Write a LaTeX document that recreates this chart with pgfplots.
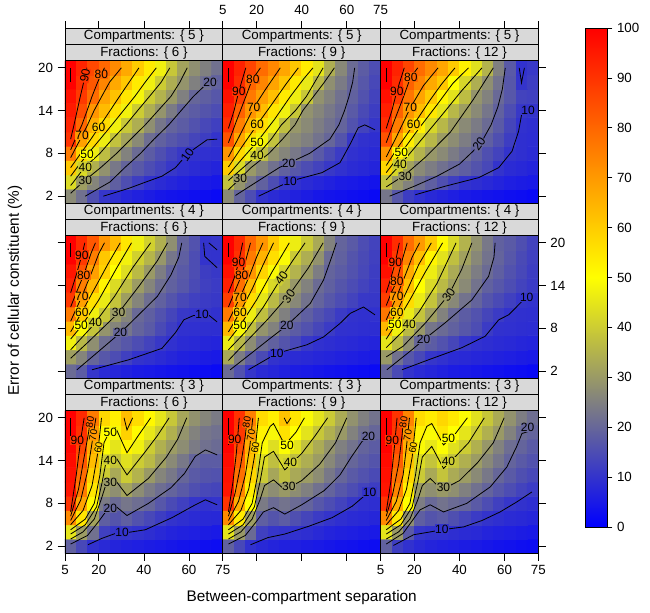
\documentclass[border=0pt]{standalone}
\usepackage{fontspec}
\setmainfont{Liberation Sans}
\usepackage{pgfplots}
\usepackage{pgfplotstable}
\pgfplotsset{compat=1.18}
\def\u{0.75pt}
\definecolor{c10}{RGB}{51,51,204}
\definecolor{c20}{RGB}{102,102,154}
\definecolor{c30}{RGB}{153,153,102}
\definecolor{c40}{RGB}{204,204,51}
\definecolor{c50}{RGB}{255,255,0}
\definecolor{c60}{RGB}{255,204,0}
\definecolor{c70}{RGB}{255,153,0}
\definecolor{c80}{RGB}{255,102,0}
\definecolor{c90}{RGB}{255,51,0}
\pgfplotsset{
 colormap={rc}{rgb255=(0,0,255) rgb255=(128,128,128) rgb255=(255,255,0) rgb255=(255,128,0) rgb255=(255,0,0)},
 pnl/.style={anchor=north west, width=118.35pt, height=106.95pt, scale only axis,
  xmin=5, xmax=75, ymin=1, ymax=21, enlargelimits=false, axis on top,
  colormap name=rc, point meta min=0, point meta max=100,
  axis line style={line width=0.6pt}, tick align=outside, major tick length=5.5pt,
  tick style={black, line width=0.5pt}, xtick={5,20,40,60,75}, ytick={2,8,14,20},
  ticklabel style={font=\fontsize{10}{12}\selectfont},
  /pgf/number format/assume math mode=true},
 hm/.style={matrix plot*, mesh/cols=14, point meta=explicit},
 ct/.style={black, line width=0.6pt, no marks},
}
\tikzset{lb/.style={font=\fontsize{9}{10}\selectfont, inner sep=0.3pt},
         lc/.style={font=\fontsize{7.5}{8}\selectfont, inner sep=0.2pt}}
\newcommand\Ct[1]{\addplot[ct] coordinates {#1};}
\newcommand\Lb[4][0]{\node[lb,fill=c#4,rotate=#1] at (axis cs:#2,#3) {#4};}
\newcommand\Lc[3]{\node[lc,fill=c#3,rotate=80] at (axis cs:#1,#2) {#3};}

\pgfplotstableread[row sep=\\]{
x y z\\
7.5 2 27\\12.5 2 22\\17.5 2 15.5\\22.5 2 10.5\\27.5 2 9\\32.5 2 7.5\\37.5 2 6.5\\42.5 2 5.5\\47.5 2 4.5\\52.5 2 4\\57.5 2 3.5\\62.5 2 3\\67.5 2 2.5\\72.5 2 2\\
7.5 4 43\\12.5 4 31\\17.5 4 26\\22.5 4 22\\27.5 4 18.5\\32.5 4 15.3\\37.5 4 12.2\\42.5 4 9.5\\47.5 4 8.5\\52.5 4 7.5\\57.5 4 6.5\\62.5 4 5.5\\67.5 4 5\\72.5 4 4.5\\
7.5 6 61\\12.5 6 43\\17.5 6 34.5\\22.5 6 28.5\\27.5 6 23.5\\32.5 6 19.6\\37.5 6 17.3\\42.5 6 15\\47.5 6 13\\52.5 6 10.7\\57.5 6 9.3\\62.5 6 8.5\\67.5 6 7.8\\72.5 6 7\\
7.5 8 76\\12.5 8 58.5\\17.5 8 46\\22.5 8 37\\27.5 8 30.5\\32.5 8 25.5\\37.5 8 21\\42.5 8 18\\47.5 8 15.5\\52.5 8 13\\57.5 8 11\\62.5 8 9.8\\67.5 8 9.3\\72.5 8 9\\
7.5 10 90\\12.5 10 68.5\\17.5 10 57.5\\22.5 10 46.5\\27.5 10 38\\32.5 10 32\\37.5 10 27\\42.5 10 21.5\\47.5 10 19\\52.5 10 17\\57.5 10 15.5\\62.5 10 13.5\\67.5 10 12\\72.5 10 10\\
7.5 12 93\\12.5 12 80\\17.5 12 66\\22.5 12 57\\27.5 12 47\\32.5 12 39\\37.5 12 34\\42.5 12 28\\47.5 12 23\\52.5 12 19.5\\57.5 12 18\\62.5 12 16\\67.5 12 14\\72.5 12 12.5\\
7.5 14 95\\12.5 14 85\\17.5 14 71\\22.5 14 63.5\\27.5 14 56\\32.5 14 47.5\\37.5 14 40\\42.5 14 34\\47.5 14 29\\52.5 14 24\\57.5 14 19.5\\62.5 14 18\\67.5 14 16.5\\72.5 14 15\\
7.5 16 97\\12.5 16 89\\17.5 16 79\\22.5 16 68\\27.5 16 62\\32.5 16 55\\37.5 16 48\\42.5 16 40\\47.5 16 35\\52.5 16 30\\57.5 16 25\\62.5 16 20\\67.5 16 18.5\\72.5 16 17\\
7.5 18 100\\12.5 18 91\\17.5 18 83\\22.5 18 74\\27.5 18 67\\32.5 18 61\\37.5 18 54\\42.5 18 47\\47.5 18 40\\52.5 18 34\\57.5 18 29\\62.5 18 25\\67.5 18 22\\72.5 18 19\\
7.5 20 100\\12.5 20 93\\17.5 20 86\\22.5 20 80\\27.5 20 73\\32.5 20 67\\37.5 20 60\\42.5 20 54\\47.5 20 47\\52.5 20 39\\57.5 20 32\\62.5 20 28\\67.5 20 25\\72.5 20 22\\
}\tabA

\pgfplotstableread[row sep=\\]{
x y z\\
7.5 2 27\\12.5 2 19.5\\17.5 2 15\\22.5 2 10\\27.5 2 8.5\\32.5 2 7.5\\37.5 2 6.5\\42.5 2 5.5\\47.5 2 4.5\\52.5 2 4\\57.5 2 3.5\\62.5 2 3\\67.5 2 2.5\\72.5 2 2\\
7.5 4 38\\12.5 4 29\\17.5 4 23.5\\22.5 4 19\\27.5 4 15\\32.5 4 11\\37.5 4 9.5\\42.5 4 8.5\\47.5 4 7.5\\52.5 4 6.5\\57.5 4 5.5\\62.5 4 5\\67.5 4 4.5\\72.5 4 4\\
7.5 6 60\\12.5 6 43\\17.5 6 30\\22.5 6 26\\27.5 6 22\\32.5 6 19\\37.5 6 17\\42.5 6 15\\47.5 6 13\\52.5 6 11\\57.5 6 9.5\\62.5 6 8.5\\67.5 6 7.8\\72.5 6 7\\
7.5 8 71\\12.5 8 57.5\\17.5 8 47\\22.5 8 37\\27.5 8 29\\32.5 8 26\\37.5 8 23.5\\42.5 8 20.5\\47.5 8 17.5\\52.5 8 14.5\\57.5 8 11.5\\62.5 8 9.5\\67.5 8 8.7\\72.5 8 8\\
7.5 10 84\\12.5 10 67.5\\17.5 10 56.5\\22.5 10 47.5\\27.5 10 38\\32.5 10 29.5\\37.5 10 27\\42.5 10 25\\47.5 10 22.5\\52.5 10 20\\57.5 10 16.5\\62.5 10 11\\67.5 10 9.6\\72.5 10 9\\
7.5 12 91\\12.5 12 75\\17.5 12 65\\22.5 12 56\\27.5 12 47\\32.5 12 37.5\\37.5 12 29.5\\42.5 12 27\\47.5 12 24.5\\52.5 12 22\\57.5 12 19.5\\62.5 12 16\\67.5 12 13\\72.5 12 10.5\\
7.5 14 94\\12.5 14 81\\17.5 14 71\\22.5 14 63\\27.5 14 55\\32.5 14 47\\37.5 14 39\\42.5 14 28.5\\47.5 14 26\\52.5 14 23.5\\57.5 14 21\\62.5 14 17.5\\67.5 14 14.5\\72.5 14 12\\
7.5 16 97\\12.5 16 87.5\\17.5 16 76.5\\22.5 16 69\\27.5 16 62.5\\32.5 16 54\\37.5 16 46.5\\42.5 16 39\\47.5 16 28.5\\52.5 16 25.5\\57.5 16 22\\62.5 16 19\\67.5 16 16\\72.5 16 13\\
7.5 18 100\\12.5 18 91.5\\17.5 18 80.5\\22.5 18 74\\27.5 18 68\\32.5 18 61.5\\37.5 18 54\\42.5 18 45.5\\47.5 18 36\\52.5 18 28\\57.5 18 24\\62.5 18 20\\67.5 18 17\\72.5 18 14\\
7.5 20 100\\12.5 20 93.5\\17.5 20 86.5\\22.5 20 79\\27.5 20 73.5\\32.5 20 67.5\\37.5 20 61\\42.5 20 54\\47.5 20 44.5\\52.5 20 34\\57.5 20 26.5\\62.5 20 21\\67.5 20 18\\72.5 20 15\\
}\tabB

\pgfplotstableread[row sep=\\]{
x y z\\
7.5 2 23\\12.5 2 17\\17.5 2 12\\22.5 2 9.5\\27.5 2 8\\32.5 2 7\\37.5 2 6\\42.5 2 5\\47.5 2 4.5\\52.5 2 4\\57.5 2 3.5\\62.5 2 3\\67.5 2 2.5\\72.5 2 2\\
7.5 4 38\\12.5 4 29.5\\17.5 4 25.5\\22.5 4 21.5\\27.5 4 18.5\\32.5 4 15.5\\37.5 4 12.3\\42.5 4 9.8\\47.5 4 9\\52.5 4 8\\57.5 4 7\\62.5 4 6\\67.5 4 5.5\\72.5 4 5\\
7.5 6 58\\12.5 6 42\\17.5 6 31.5\\22.5 6 27\\27.5 6 24.5\\32.5 6 22\\37.5 6 20\\42.5 6 18.3\\47.5 6 16.3\\52.5 6 14\\57.5 6 10\\62.5 6 8.5\\67.5 6 7.8\\72.5 6 7\\
7.5 8 71\\12.5 8 55\\17.5 8 41\\22.5 8 35\\27.5 8 29.5\\32.5 8 27\\37.5 8 24\\42.5 8 21.5\\47.5 8 18.5\\52.5 8 15.5\\57.5 8 13\\62.5 8 10\\67.5 8 9.2\\72.5 8 8.5\\
7.5 10 84\\12.5 10 67.5\\17.5 10 53.5\\22.5 10 42\\27.5 10 36\\32.5 10 30.5\\37.5 10 27.5\\42.5 10 24.5\\47.5 10 21.5\\52.5 10 18.5\\57.5 10 15.5\\62.5 10 12\\67.5 10 9.2\\72.5 10 8.7\\
7.5 12 91\\12.5 12 75.5\\17.5 12 64.5\\22.5 12 52.5\\27.5 12 42\\32.5 12 36\\37.5 12 30.5\\42.5 12 27\\47.5 12 24\\52.5 12 21\\57.5 12 17.5\\62.5 12 13.5\\67.5 12 9.5\\72.5 12 9\\
7.5 14 94\\12.5 14 81\\17.5 14 70.5\\22.5 14 63\\27.5 14 54.5\\32.5 14 44.5\\37.5 14 36\\42.5 14 31\\47.5 14 27\\52.5 14 23\\57.5 14 19\\62.5 14 15\\67.5 14 11\\72.5 14 10\\
7.5 16 97\\12.5 16 88\\17.5 16 77\\22.5 16 68\\27.5 16 60.5\\32.5 16 52\\37.5 16 44.5\\42.5 16 37\\47.5 16 29\\52.5 16 25.5\\57.5 16 20.5\\62.5 16 17\\67.5 16 13\\72.5 16 12.5\\
7.5 18 100\\12.5 18 91.5\\17.5 18 81\\22.5 18 74\\27.5 18 67\\32.5 18 61\\37.5 18 50\\42.5 18 42\\47.5 18 34\\52.5 18 28\\57.5 18 22.5\\62.5 18 17\\67.5 18 10.2\\72.5 18 12\\
7.5 20 100\\12.5 20 93.5\\17.5 20 86.5\\22.5 20 79\\27.5 20 73\\32.5 20 67.5\\37.5 20 60.5\\42.5 20 52.5\\47.5 20 44\\52.5 20 35\\57.5 20 25\\62.5 20 17.5\\67.5 20 9.5\\72.5 20 11\\
}\tabC

\pgfplotstableread[row sep=\\]{
x y z\\
7.5 2 21\\12.5 2 18\\17.5 2 10.5\\22.5 2 8.5\\27.5 2 7.5\\32.5 2 6.5\\37.5 2 5.5\\42.5 2 5\\47.5 2 4.5\\52.5 2 4\\57.5 2 3.5\\62.5 2 3\\67.5 2 2.5\\72.5 2 2\\
7.5 4 31\\12.5 4 26\\17.5 4 20\\22.5 4 17\\27.5 4 15\\32.5 4 12.5\\37.5 4 10\\42.5 4 9.3\\47.5 4 8.5\\52.5 4 7.5\\57.5 4 6.5\\62.5 4 6\\67.5 4 5.5\\72.5 4 5\\
7.5 6 47\\12.5 6 36\\17.5 6 28\\22.5 6 21.5\\27.5 6 19\\32.5 6 17\\37.5 6 15\\42.5 6 13\\47.5 6 11\\52.5 6 9.5\\57.5 6 8.5\\62.5 6 8\\67.5 6 7.5\\72.5 6 7\\
7.5 8 64\\12.5 8 48.5\\17.5 8 38.5\\22.5 8 29\\27.5 8 26\\32.5 8 23\\37.5 8 19.5\\42.5 8 17.5\\47.5 8 14.5\\52.5 8 12\\57.5 8 9.5\\62.5 8 9.3\\67.5 8 9.2\\72.5 8 9\\
7.5 10 76\\12.5 10 60.5\\17.5 10 47\\22.5 10 39\\27.5 10 30.5\\32.5 10 26\\37.5 10 20.5\\42.5 10 18.5\\47.5 10 16\\52.5 10 13.5\\57.5 10 11\\62.5 10 10.3\\67.5 10 10.3\\72.5 10 9.6\\
7.5 12 89\\12.5 12 68.5\\17.5 12 56\\22.5 12 46\\27.5 12 38.5\\32.5 12 31\\37.5 12 26\\42.5 12 21.5\\47.5 12 19\\52.5 12 16.5\\57.5 12 14\\62.5 12 12.5\\67.5 12 11.5\\72.5 12 11\\
7.5 14 93\\12.5 14 75.5\\17.5 14 64\\22.5 14 52\\27.5 14 43\\32.5 14 37\\37.5 14 30.5\\42.5 14 26\\47.5 14 21.5\\52.5 14 19\\57.5 14 17\\62.5 14 14.5\\67.5 14 12.5\\72.5 14 11.5\\
7.5 16 96\\12.5 16 84\\17.5 16 69\\22.5 16 59\\27.5 16 50\\32.5 16 43.5\\37.5 16 36.5\\42.5 16 30\\47.5 16 24.5\\52.5 16 19.5\\57.5 16 17.5\\62.5 16 15\\67.5 16 12\\72.5 16 11\\
7.5 18 100\\12.5 18 89\\17.5 18 75.5\\22.5 18 61\\27.5 18 54\\32.5 18 47.5\\37.5 18 41\\42.5 18 35.5\\47.5 18 29.5\\52.5 18 23\\57.5 18 18.5\\62.5 18 15\\67.5 18 10\\72.5 18 9.8\\
7.5 20 100\\12.5 20 92\\17.5 20 83\\22.5 20 71\\27.5 20 63.5\\32.5 20 55\\37.5 20 47\\42.5 20 41\\47.5 20 34.5\\52.5 20 28\\57.5 20 19.5\\62.5 20 16\\67.5 20 10\\72.5 20 10.5\\
}\tabD

\pgfplotstableread[row sep=\\]{
x y z\\
7.5 2 21\\12.5 2 16\\17.5 2 10.5\\22.5 2 8.5\\27.5 2 7.5\\32.5 2 6.5\\37.5 2 5.5\\42.5 2 5\\47.5 2 4.5\\52.5 2 4\\57.5 2 3.5\\62.5 2 3\\67.5 2 2.5\\72.5 2 2\\
7.5 4 33\\12.5 4 24.5\\17.5 4 18.5\\22.5 4 14.5\\27.5 4 9.8\\32.5 4 9\\37.5 4 8.5\\42.5 4 8\\47.5 4 7.5\\52.5 4 7\\57.5 4 6.5\\62.5 4 6\\67.5 4 5.5\\72.5 4 5\\
7.5 6 46\\12.5 6 36\\17.5 6 27.5\\22.5 6 21.5\\27.5 6 19\\32.5 6 16.5\\37.5 6 14\\42.5 6 11\\47.5 6 9.5\\52.5 6 9\\57.5 6 8.5\\62.5 6 8\\67.5 6 7.5\\72.5 6 7\\
7.5 8 64\\12.5 8 48.5\\17.5 8 37.5\\22.5 8 29\\27.5 8 25.5\\32.5 8 20\\37.5 8 18\\42.5 8 16\\47.5 8 13.7\\52.5 8 11.5\\57.5 8 9.6\\62.5 8 9.3\\67.5 8 9\\72.5 8 8.8\\
7.5 10 76\\12.5 10 61\\17.5 10 46.5\\22.5 10 37.5\\27.5 10 29.5\\32.5 10 25\\37.5 10 21\\42.5 10 18.5\\47.5 10 16\\52.5 10 14\\57.5 10 11.5\\62.5 10 9.8\\67.5 10 9.4\\72.5 10 9.5\\
7.5 12 88\\12.5 12 70.5\\17.5 12 56.5\\22.5 12 45\\27.5 12 36.5\\32.5 12 30\\37.5 12 26.5\\42.5 12 22.5\\47.5 12 19.5\\52.5 12 17\\57.5 12 15\\62.5 12 13\\67.5 12 11\\72.5 12 10.8\\
7.5 14 94\\12.5 14 78\\17.5 14 63.5\\22.5 14 52\\27.5 14 42.5\\32.5 14 36.5\\37.5 14 29.5\\42.5 14 25.5\\47.5 14 21\\52.5 14 18.7\\57.5 14 16.7\\62.5 14 14.8\\67.5 14 13\\72.5 14 11.5\\
7.5 16 97\\12.5 16 85.5\\17.5 16 71\\22.5 16 58.5\\27.5 16 49\\32.5 16 41.5\\37.5 16 35\\42.5 16 30\\47.5 16 24.5\\52.5 16 19.5\\57.5 16 18\\62.5 16 16\\67.5 16 14\\72.5 16 12\\
7.5 18 100\\12.5 18 90.5\\17.5 18 76\\22.5 18 65\\27.5 18 56.5\\32.5 18 49\\37.5 18 39.5\\42.5 18 34\\47.5 18 28.5\\52.5 18 21\\57.5 18 19\\62.5 18 16.5\\67.5 18 14.5\\72.5 18 12.5\\
7.5 20 100\\12.5 20 92\\17.5 20 80\\22.5 20 71\\27.5 20 61\\32.5 20 53.5\\37.5 20 46.5\\42.5 20 39.5\\47.5 20 33\\52.5 20 25.5\\57.5 20 19.5\\62.5 20 17.5\\67.5 20 15\\72.5 20 13\\
}\tabE

\pgfplotstableread[row sep=\\]{
x y z\\
7.5 2 20\\12.5 2 14.5\\17.5 2 10\\22.5 2 8.5\\27.5 2 7.5\\32.5 2 6.5\\37.5 2 5.5\\42.5 2 5\\47.5 2 4.5\\52.5 2 4\\57.5 2 3.5\\62.5 2 3\\67.5 2 2.5\\72.5 2 2\\
7.5 4 30\\12.5 4 22\\17.5 4 17\\22.5 4 14\\27.5 4 10.5\\32.5 4 9.5\\37.5 4 8.5\\42.5 4 8\\47.5 4 7.5\\52.5 4 7\\57.5 4 6.5\\62.5 4 6\\67.5 4 5.5\\72.5 4 5\\
7.5 6 45\\12.5 6 36.5\\17.5 6 27.5\\22.5 6 20\\27.5 6 18\\32.5 6 16\\37.5 6 13.7\\42.5 6 10.7\\47.5 6 9.5\\52.5 6 9\\57.5 6 8.5\\62.5 6 8\\67.5 6 7.5\\72.5 6 7\\
7.5 8 64\\12.5 8 47\\17.5 8 36.5\\22.5 8 29.5\\27.5 8 23\\32.5 8 21\\37.5 8 19\\42.5 8 17\\47.5 8 15\\52.5 8 11.5\\57.5 8 9.6\\62.5 8 9.3\\67.5 8 9\\72.5 8 8.7\\
7.5 10 77\\12.5 10 59\\17.5 10 46\\22.5 10 38.5\\27.5 10 31\\32.5 10 25.5\\37.5 10 20.5\\42.5 10 18\\47.5 10 16\\52.5 10 13.5\\57.5 10 11.5\\62.5 10 9.8\\67.5 10 9.4\\72.5 10 9.2\\
7.5 12 88\\12.5 12 69.5\\17.5 12 57\\22.5 12 46\\27.5 12 38.5\\32.5 12 30.5\\37.5 12 26.5\\42.5 12 22.5\\47.5 12 19.5\\52.5 12 16.5\\57.5 12 14.5\\62.5 12 12.5\\67.5 12 10.4\\72.5 12 9.7\\
7.5 14 93\\12.5 14 78\\17.5 14 62.5\\22.5 14 50\\27.5 14 42.5\\32.5 14 36.5\\37.5 14 31\\42.5 14 27\\47.5 14 22.5\\52.5 14 19\\57.5 14 17\\62.5 14 15\\67.5 14 13\\72.5 14 11.5\\
7.5 16 97\\12.5 16 84.5\\17.5 16 66.5\\22.5 16 55.5\\27.5 16 46.5\\32.5 16 40\\37.5 16 33.5\\42.5 16 28.5\\47.5 16 24.5\\52.5 16 21\\57.5 16 18.5\\62.5 16 16\\67.5 16 14\\72.5 16 12\\
7.5 18 100\\12.5 18 89\\17.5 18 74\\22.5 18 62.5\\27.5 18 52\\32.5 18 44.5\\37.5 18 37.5\\42.5 18 31.5\\47.5 18 26.5\\52.5 18 22.5\\57.5 18 19.5\\62.5 18 17\\67.5 18 14.5\\72.5 18 12.5\\
7.5 20 100\\12.5 20 91.5\\17.5 20 79\\22.5 20 70\\27.5 20 61\\32.5 20 51\\37.5 20 42.5\\42.5 20 35\\47.5 20 28.5\\52.5 20 23.5\\57.5 20 19\\62.5 20 17.5\\67.5 20 15.5\\72.5 20 13\\
}\tabF

\pgfplotstableread[row sep=\\]{
x y z\\
7.5 2 19\\12.5 2 14\\17.5 2 9.5\\22.5 2 8\\27.5 2 7\\32.5 2 6.5\\37.5 2 6\\42.5 2 5.5\\47.5 2 5\\52.5 2 4.5\\57.5 2 4\\62.5 2 3.5\\67.5 2 3\\72.5 2 2.5\\
7.5 4 45\\12.5 4 30.5\\17.5 4 22\\22.5 4 12.5\\27.5 4 10.5\\32.5 4 10.5\\37.5 4 9.7\\42.5 4 9\\47.5 4 8\\52.5 4 7\\57.5 4 6.5\\62.5 4 6\\67.5 4 5.5\\72.5 4 5\\
7.5 6 73\\12.5 6 55\\17.5 6 32\\22.5 6 18.5\\27.5 6 16.5\\32.5 6 18.5\\37.5 6 16\\42.5 6 14\\47.5 6 12\\52.5 6 10\\57.5 6 9.2\\62.5 6 8.5\\67.5 6 8\\72.5 6 7.8\\
7.5 8 90\\12.5 8 68\\17.5 8 51\\22.5 8 24\\27.5 8 21\\32.5 8 23\\37.5 8 21.5\\42.5 8 20\\47.5 8 17\\52.5 8 14.5\\57.5 8 12.5\\62.5 8 10.3\\67.5 8 9.8\\72.5 8 10.1\\
7.5 10 96\\12.5 10 76\\17.5 10 55\\22.5 10 30.5\\27.5 10 28\\32.5 10 32\\37.5 10 27.5\\42.5 10 24\\47.5 10 21.5\\52.5 10 19.5\\57.5 10 17.5\\62.5 10 15.5\\67.5 10 14\\72.5 10 13.5\\
7.5 12 97\\12.5 12 79\\17.5 12 59\\22.5 12 40\\27.5 12 33\\32.5 12 40\\37.5 12 35\\42.5 12 30\\47.5 12 26\\52.5 12 23.5\\57.5 12 20\\62.5 12 17.5\\67.5 12 16.5\\72.5 12 16\\
7.5 14 98\\12.5 14 83\\17.5 14 63\\22.5 14 43.5\\27.5 14 38.5\\32.5 14 44\\37.5 14 40\\42.5 14 36.5\\47.5 14 31\\52.5 14 27\\57.5 14 23.5\\62.5 14 19.5\\67.5 14 18\\72.5 14 18\\
7.5 16 99\\12.5 16 86\\17.5 16 67\\22.5 16 49.5\\27.5 16 45\\32.5 16 52\\37.5 16 47\\42.5 16 40\\47.5 16 34.5\\52.5 16 30.5\\57.5 16 27.5\\62.5 16 24\\67.5 16 22\\72.5 16 21\\
7.5 18 100\\12.5 18 90.5\\17.5 18 70\\22.5 18 51.5\\27.5 18 48.5\\32.5 18 59\\37.5 18 51\\42.5 18 45.5\\47.5 18 40\\52.5 18 34.5\\57.5 18 29\\62.5 18 25.5\\67.5 18 23\\72.5 18 22\\
7.5 20 100\\12.5 20 92\\17.5 20 76\\22.5 20 58\\27.5 20 53\\32.5 20 63\\37.5 20 57\\42.5 20 51.5\\47.5 20 45\\52.5 20 39\\57.5 20 32.5\\62.5 20 28.5\\67.5 20 26\\72.5 20 24\\
}\tabG

\pgfplotstableread[row sep=\\]{
x y z\\
7.5 2 19\\12.5 2 14\\17.5 2 9.5\\22.5 2 8\\27.5 2 7\\32.5 2 6.5\\37.5 2 6\\42.5 2 5.5\\47.5 2 5\\52.5 2 4.5\\57.5 2 4\\62.5 2 3.5\\67.5 2 3\\72.5 2 2.5\\
7.5 4 45\\12.5 4 30\\17.5 4 21\\22.5 4 12.5\\27.5 4 10.5\\32.5 4 10\\37.5 4 9.5\\42.5 4 9\\47.5 4 8\\52.5 4 7\\57.5 4 6.5\\62.5 4 6\\67.5 4 5.5\\72.5 4 5\\
7.5 6 73\\12.5 6 54\\17.5 6 31\\22.5 6 18.5\\27.5 6 16.5\\32.5 6 18\\37.5 6 15.5\\42.5 6 13.5\\47.5 6 11.5\\52.5 6 10.2\\57.5 6 9.2\\62.5 6 8.5\\67.5 6 8\\72.5 6 7.5\\
7.5 8 90\\12.5 8 66\\17.5 8 50\\22.5 8 24\\27.5 8 21\\32.5 8 22.5\\37.5 8 21\\42.5 8 19.5\\47.5 8 17\\52.5 8 15\\57.5 8 13\\62.5 8 10.8\\67.5 8 9.5\\72.5 8 9\\
7.5 10 96\\12.5 10 74\\17.5 10 53.5\\22.5 10 30\\27.5 10 27.5\\32.5 10 30\\37.5 10 27.5\\42.5 10 25\\47.5 10 22\\52.5 10 19.5\\57.5 10 17\\62.5 10 15\\67.5 10 13\\72.5 10 12\\
7.5 12 97\\12.5 12 78\\17.5 12 58\\22.5 12 39.5\\27.5 12 32.5\\32.5 12 37.5\\37.5 12 33\\42.5 12 30.5\\47.5 12 27.5\\52.5 12 23.5\\57.5 12 20\\62.5 12 17.5\\67.5 12 16\\72.5 12 14.5\\
7.5 14 98\\12.5 14 81.5\\17.5 14 62\\22.5 14 43\\27.5 14 37.5\\32.5 14 42.5\\37.5 14 37.5\\42.5 14 34\\47.5 14 30.5\\52.5 14 26.5\\57.5 14 23\\62.5 14 20\\67.5 14 18\\72.5 14 16.5\\
7.5 16 99.5\\12.5 16 85\\17.5 16 66.5\\22.5 16 49\\27.5 16 43.5\\32.5 16 49.5\\37.5 16 44.5\\42.5 16 38\\47.5 16 33.5\\52.5 16 29\\57.5 16 25\\62.5 16 22.5\\67.5 16 19.5\\72.5 16 18\\
7.5 18 100\\12.5 18 89\\17.5 18 70\\22.5 18 52.5\\27.5 18 48.5\\32.5 18 56\\37.5 18 50\\42.5 18 44.5\\47.5 18 39\\52.5 18 34.5\\57.5 18 30\\62.5 18 25.5\\67.5 18 22\\72.5 18 20\\
7.5 20 100\\12.5 20 90\\17.5 20 75\\22.5 20 57\\27.5 20 53\\32.5 20 62\\37.5 20 55\\42.5 20 49\\47.5 20 44.5\\52.5 20 39.5\\57.5 20 33.5\\62.5 20 28.5\\67.5 20 25\\72.5 20 22.5\\
}\tabH

\pgfplotstableread[row sep=\\]{
x y z\\
7.5 2 19\\12.5 2 12\\17.5 2 9.5\\22.5 2 8\\27.5 2 7\\32.5 2 6.5\\37.5 2 6\\42.5 2 5.5\\47.5 2 5\\52.5 2 4.5\\57.5 2 4\\62.5 2 3.5\\67.5 2 3\\72.5 2 2.5\\
7.5 4 45\\12.5 4 30\\17.5 4 17.5\\22.5 4 10.5\\27.5 4 9.8\\32.5 4 9.5\\37.5 4 9\\42.5 4 8.5\\47.5 4 8\\52.5 4 7\\57.5 4 6.5\\62.5 4 6\\67.5 4 5.5\\72.5 4 5\\
7.5 6 73\\12.5 6 54\\17.5 6 28\\22.5 6 18.5\\27.5 6 16.5\\32.5 6 17.5\\37.5 6 15.5\\42.5 6 13.5\\47.5 6 11.5\\52.5 6 10\\57.5 6 9.2\\62.5 6 8.5\\67.5 6 8\\72.5 6 7.5\\
7.5 8 90\\12.5 8 66\\17.5 8 50\\22.5 8 24.5\\27.5 8 20.5\\32.5 8 22.5\\37.5 8 21\\42.5 8 20\\47.5 8 17.5\\52.5 8 15\\57.5 8 12.5\\62.5 8 10.5\\67.5 8 9.8\\72.5 8 9\\
7.5 10 96\\12.5 10 74\\17.5 10 53.5\\22.5 10 30\\27.5 10 28\\32.5 10 30\\37.5 10 28\\42.5 10 25\\47.5 10 22\\52.5 10 19.5\\57.5 10 17\\62.5 10 15\\67.5 10 13\\72.5 10 11.5\\
7.5 12 97\\12.5 12 78\\17.5 12 58\\22.5 12 39.5\\27.5 12 33\\32.5 12 38.5\\37.5 12 33.5\\42.5 12 30.5\\47.5 12 27\\52.5 12 23.5\\57.5 12 20\\62.5 12 17.5\\67.5 12 15.5\\72.5 12 14\\
7.5 14 98\\12.5 14 81.5\\17.5 14 62\\22.5 14 43\\27.5 14 38.5\\32.5 14 44\\37.5 14 38.5\\42.5 14 34.5\\47.5 14 30.5\\52.5 14 26.5\\57.5 14 23\\62.5 14 19.5\\67.5 14 17.5\\72.5 14 16\\
7.5 16 99.5\\12.5 16 85\\17.5 16 66\\22.5 16 49\\27.5 16 45.5\\32.5 16 49.5\\37.5 16 44\\42.5 16 40\\47.5 16 34.5\\52.5 16 29.5\\57.5 16 25.5\\62.5 16 21.5\\67.5 16 19.5\\72.5 16 17.5\\
7.5 18 100\\12.5 18 89\\17.5 18 69\\22.5 18 52.5\\27.5 18 49\\32.5 18 55\\37.5 18 50\\42.5 18 45\\47.5 18 39.5\\52.5 18 34.5\\57.5 18 30\\62.5 18 25.5\\67.5 18 21\\72.5 18 19.5\\
7.5 20 100\\12.5 20 90\\17.5 20 74\\22.5 20 57\\27.5 20 54\\32.5 20 58\\37.5 20 54.5\\42.5 20 49.5\\47.5 20 44\\52.5 20 39\\57.5 20 33.5\\62.5 20 28.5\\67.5 20 24.5\\72.5 20 21.5\\
}\tabI

\begin{document}
\begin{tikzpicture}
\path[use as bounding box] (0,0) rectangle ({650*\u},{-613*\u});

% ---------- Row 1 : Compartments 5 ----------
\begin{axis}[pnl, at={({65*\u},{-60.7*\u})}, xtick=\empty, ytick pos=left, yticklabel pos=left]
\addplot[hm] table[meta=z] {\tabA};
\Ct{(7.5,18) (7.5,20)}
\Ct{(7.5,10) (9,12) (10.4,14) (11.8,16) (13.3,18) (14.7,20)}
\Ct{(7.5,8.5) (9.6,10) (12.5,12) (14.8,14) (17,16) (19.5,18) (22.5,20)}
\Ct{(7.5,7.4) (8.5,8) (11.8,10) (15,12) (17.9,14) (21.3,16) (24.8,18) (30,20)}
\Ct{(7.5,6) (12,8) (16.5,10) (20.8,12) (25,14) (29.2,16) (33.5,18) (37.8,20)}
\Ct{(7.5,4.8) (10.3,6) (15.3,8) (20.6,10) (25.8,12) (30.9,14) (36,16) (40.6,18) (45.5,20)}
\Ct{(7.5,3.5) (8.8,4) (13.5,6) (20.5,8) (26,10) (32,12) (37.2,14) (42.5,16) (47.7,18) (51.5,20)}
\Ct{(7.5,2.4) (13,4) (20.8,6) (27.9,8) (34.2,10) (40.6,12) (46.3,14) (52,16) (56,18) (59.2,20)}
\Ct{(14,2) (25,4) (31.5,6) (38.5,8) (44.5,10) (51,12) (56.5,14) (62,16) (67.3,17.6) (72.5,18.2)}
\Ct{(22,2) (33.3,3.1) (41,4) (48,4.8) (54,6) (59.5,8) (68,9.9) (72.5,10)}
\Lb[80]{13.9}{18.9}{90}\Lb{21.1}{19.1}{80}\Lb{12.6}{10.5}{70}\Lb{19.9}{11.6}{60}
\Lb{14.8}{7.8}{50}\Lb{14}{6.1}{40}\Lb{14}{4.2}{30}\Lb{69.4}{18}{20}\Lb[55]{59.3}{7.8}{10}
\end{axis}

\begin{axis}[pnl, at={({222.8*\u},{-60.7*\u})}, xtick=\empty, ytick=\empty]
\addplot[hm] table[meta=z] {\tabB};
\Ct{(7.5,18) (7.5,20)}
\Ct{(7.5,11.5) (10,14) (12.1,16.7) (15.2,20)}
\Ct{(7.5,9.5) (11,12.5) (15,15.8) (18,18.3) (21.7,20)}
\Ct{(7.5,7.5) (12,10.2) (18.7,14.4) (24,17) (30.5,20)}
\Ct{(7.5,6.1) (13,8.7) (20.2,12) (27,15) (33,17.7) (38.5,20)}
\Ct{(7.5,5) (14,7.4) (20.2,9.6) (28,12.8) (35,16) (41,18.5) (45,20)}
\Ct{(7.5,4.2) (14,6) (20.2,7.7) (26.5,10) (31,12) (37.2,14) (42.1,16) (45.8,18) (49.5,20)}
\Ct{(7.5,2.9) (12.8,4.5) (17.5,6) (25.5,8) (31.5,10) (37,12) (40.5,14) (45.3,16) (50.1,18) (54.5,20)}
\Ct{(10.6,2.1) (22,4.4) (30,6) (43.5,8) (52.5,10) (56.5,12) (59,14) (61,16) (62.6,18) (63.5,20)}
\Ct{(20.9,2) (34.9,4.1) (49,5.3) (57,6.7) (61.5,9.3) (65.1,11.6) (68,12) (72.5,11.3)}
\Lb{12.1}{16.7}{90}\Lb{18.3}{18.4}{80}\Lb{18.7}{14.4}{70}\Lb{20.2}{12}{60}
\Lb{20.2}{9.6}{50}\Lb{20.2}{7.7}{40}\Lb{12.8}{4.5}{30}\Lb{34.2}{6.6}{20}\Lb{34.9}{4.1}{10}
\end{axis}

\begin{axis}[pnl, at={({380.6*\u},{-60.7*\u})}, xtick=\empty, ytick pos=right, yticklabels={}]
\addplot[hm] table[meta=z] {\tabC};
\Ct{(7.5,18) (7.5,20)}
\Ct{(7.5,11.5) (10,14) (12.2,16.7) (15.5,20)}
\Ct{(7.5,9.5) (11,12.5) (15,15.8) (18.2,18.6) (21.5,20)}
\Ct{(7.5,7.5) (12,10.3) (18.2,14.4) (24,17.5) (30.5,20)}
\Ct{(7.5,6.3) (13,9) (19.6,12) (27,15.5) (32,17.7) (38,20)}
\Ct{(7.5,5.3) (14.2,8.1) (22,11.5) (30,14.8) (37,17.8) (44,20)}
\Ct{(7.5,4.3) (13.7,6.4) (22,9.5) (32,13.3) (41,16.8) (50,20)}
\Ct{(7.5,3.3) (15.9,5) (25,7.5) (36,11) (46,15.5) (55,20)}
\Ct{(9,2) (20,3.4) (30,4.8) (40,6.5) (46,8.3) (50.5,10) (54,12) (57,14.5) (59,17) (60.3,20)}
\Ct{(20.4,2.2) (33.7,3.4) (48.5,4.6) (57.4,6) (63.3,8.3) (66.2,11.1) (67.7,13.7) (70.5,14) (72.5,14.2)}
\Ct{(66.5,20) (67.5,17.9) (68.8,20)}
\Lb{12.2}{16.7}{90}\Lb{18.4}{18.7}{80}\Lb{18.2}{14.4}{70}\Lb{19.6}{12}{60}
\Lb{14.2}{8.2}{50}\Lb{13.7}{6.5}{40}\Lb{15.9}{4.8}{30}\Lb[55]{48.7}{9.3}{20}\Lb{70.4}{14.1}{10}
\end{axis}

% ---------- Row 2 : Compartments 4 ----------
\begin{axis}[pnl, at={({65*\u},{-235.7*\u})}, xtick=\empty, ytick pos=left, yticklabels={}]
\addplot[hm] table[meta=z] {\tabD};
\Ct{(7.5,18) (7.5,20)}
\Ct{(7.5,13) (10,15.5) (12.5,18.3) (13.8,20)}
\Ct{(7.5,11) (10,13) (13.3,15.5) (16.5,18.5) (18.5,20)}
\Ct{(7.5,9) (12.5,12.5) (17,16) (20,18.5) (22.5,20)}
\Ct{(7.5,7.5) (12.5,10.3) (18,13.5) (24,17) (29.5,20)}
\Ct{(7.5,6.5) (12.5,8.4) (20,12) (28,16.5) (34.5,20)}
\Ct{(7.5,5) (17.7,8.5) (27,12.5) (35,16.5) (43,20)}
\Ct{(7.5,3.8) (15,6) (28.8,10.2) (38,14) (46,17.5) (50.5,20)}
\Ct{(10.3,2.2) (20,4.8) (29.6,7.4) (38,10) (46,12.5) (52,15.5) (55.5,18) (56.8,20)}
\Ct{(17,2.2) (33.3,3.6) (48,5.2) (54,7.4) (57.7,9.2) (62,9.8) (69,9.8) (72.5,8.9)}
\Ct{(66.5,20) (67,18.1) (72.5,16.5)}
\Ct{(68.8,20) (72.5,19)}
\Lb{12.5}{18.3}{90}\Lb{13.3}{15.5}{80}\Lb{12.5}{12.5}{70}\Lb{12.5}{10.3}{60}
\Lb{12.2}{8.4}{50}\Lb{18.5}{8.8}{40}\Lb{28.8}{10.2}{30}\Lb{29.6}{7.4}{20}\Lb{65.8}{9.9}{10}
\end{axis}

\begin{axis}[pnl, at={({222.8*\u},{-235.7*\u})}, xtick=\empty, ytick=\empty]
\addplot[hm] table[meta=z] {\tabE};
\Ct{(7.5,18) (7.5,20)}
\Ct{(7.5,13) (10,15) (12,17.2) (13.8,20)}
\Ct{(7.5,11) (10.5,13.3) (13.4,15.5) (16,18.5) (17.3,20)}
\Ct{(7.5,9) (12.7,12.4) (17,15.5) (20,18) (22.8,20)}
\Ct{(7.5,7.5) (12.7,10.3) (18,13.5) (23,17) (27.5,20)}
\Ct{(7.5,6.3) (12.7,8.4) (20,12) (27,16) (34.5,20)}
\Ct{(7.5,5) (15,7.5) (23,11) (30.4,14.8) (36,17.5) (41.5,20)}
\Ct{(7.5,3.5) (15,6) (25,9.3) (34.9,12.9) (43,16.5) (49.5,20)}
\Ct{(8.3,2.2) (18,4.6) (26,6.6) (33.4,8.4) (43.8,11.5) (49.7,14.8) (53.4,18.1) (55.4,20)}
\Ct{(16.4,2.2) (29,4.5) (42.3,5.7) (49.7,6.8) (57,8.7) (61.5,10.1) (67.4,11) (72.5,9.9)}
\Lb{12}{17.2}{90}\Lb{13.4}{15.5}{80}\Lb{12.7}{12.4}{70}\Lb{12.7}{10.3}{60}
\Lb{12.7}{8.4}{50}\Lb[55]{31}{15.1}{40}\Lb[55]{34.3}{12.5}{30}\Lb{33.4}{8.4}{20}\Lb{29}{4.5}{10}
\end{axis}

\begin{axis}[pnl, at={({380.6*\u},{-235.7*\u})}, xtick=\empty, ytick pos=right, yticklabel pos=right]
\addplot[hm] table[meta=z] {\tabF};
\Ct{(7.5,18) (7.5,20)}
\Ct{(7.5,13) (9.5,15) (11.5,17.2) (13.3,20)}
\Ct{(7.5,11.2) (10,13.2) (12.2,14.6) (14.5,17.5) (16.8,20)}
\Ct{(7.5,9.2) (12.2,12.5) (16,15.5) (19,18) (22.3,20)}
\Ct{(7.5,7.7) (12.2,10.3) (17,13.5) (22,17) (27.5,20)}
\Ct{(7.5,6.5) (11.5,8.5) (18,12) (25,16) (32.5,20)}
\Ct{(7.5,5.3) (15.2,7.7) (22,10.3) (30,14.3) (38.5,20)}
\Ct{(7.5,4) (15,5.5) (25,8.8) (35.2,12.7) (41,16.3) (45.5,20)}
\Ct{(7.8,2.2) (18.9,5) (24.1,6.4) (33.7,8.8) (45.5,12) (52.9,15.3) (55.3,18) (55.8,20)}
\Ct{(14.5,2.2) (26.3,3.6) (41.1,5.3) (51.4,6.9) (57.4,9.2) (61.8,9.9) (66.2,11.3) (69,12.2) (72.5,12.4)}
\Lb{11.5}{17.2}{90}\Lb{12.2}{14.6}{80}\Lb{12.2}{12.5}{70}\Lb{12.2}{10.3}{60}
\Lb{11.3}{8.6}{50}\Lb{17.7}{8.6}{40}\Lb[55]{35.2}{12.7}{30}\Lb{24.1}{6.4}{20}\Lb{69.8}{12.3}{10}
\end{axis}

% ---------- Row 3 : Compartments 3 ----------
\begin{axis}[pnl, at={({65*\u},{-410.7*\u})}, xtick pos=left, xticklabel pos=left, ytick pos=left, yticklabel pos=left]
\addplot[hm] table[meta=z] {\tabG};
\Ct{(7.5,16.2) (7.5,20)}
\Ct{(7.5,6.8) (10,12) (12,17) (13.5,20)}
\Ct{(7.5,6.2) (11,10) (13.5,14.5) (15.5,18) (16.3,20)}
\Ct{(7.5,5.6) (12,8.5) (15,12.5) (17,16.5) (18.7,20)}
\Ct{(7.5,5) (13,7) (17,10.5) (19.5,15) (21.2,20)}
\Ct{(31.2,20) (32.5,18.3) (35,20)}
\Ct{(7.5,4.3) (14,5.8) (18,8) (20.5,12) (22.3,16.5) (25,18.2) (27.5,18.6) (32.5,15.1) (37.5,17.5) (43,20)}
\Ct{(7.5,3.7) (14,5) (19,7.5) (21.5,11) (23,13.5) (27.5,14.5) (32.5,12) (40,15) (46,17.5) (51.2,20)}
\Ct{(7.5,3) (13,4) (18,5.8) (21,8.5) (23,10.5) (27.5,11.2) (32.5,9.1) (42,11.5) (50,14.5) (55,17) (59,20)}
\Ct{(7.5,2.3) (15,3.5) (20,5.5) (23,6.8) (27.5,7.6) (32.5,6.3) (42,8) (52,10.2) (58,12.2) (62.8,14.6) (67.3,15.5) (72.5,14.8)}
\Ct{(15.2,2.2) (21.4,3.1) (27.5,3.8) (32.5,3.9) (40.6,4.3) (52.5,6) (62.8,7.8) (67.3,8.5) (72.5,7.8)}
\Lb{10.5}{16.8}{90}\Lc{16.1}{19.4}{80}\Lc{17.5}{17.6}{70}\Lc{19.8}{15.8}{60}
\Lb{25.1}{17.9}{50}\Lb{25.1}{14.1}{40}\Lb{25.1}{10.9}{30}\Lb{25.1}{7.3}{20}\Lb{30.3}{3.9}{10}
\end{axis}

\begin{axis}[pnl, at={({222.8*\u},{-410.7*\u})}, xtick pos=left, xticklabels={}, ytick=\empty]
\addplot[hm] table[meta=z] {\tabH};
\Ct{(7.5,16.2) (7.5,20)}
\Ct{(7.5,6.8) (9.5,11) (11,15) (12.3,20)}
\Ct{(7.5,6.2) (10.5,9.5) (13,13.5) (15,17.5) (15.8,20)}
\Ct{(7.5,5.6) (12,8.3) (15,12) (17,16) (18.3,20)}
\Ct{(7.5,5) (13,7) (16.5,10) (19,14.5) (20.8,20)}
\Ct{(32.2,20) (33.5,19.2) (35.2,20)}
\Ct{(7.5,4.3) (14,5.8) (18,8) (20.5,12) (22.5,16.5) (26,18.8) (27.5,19.2) (32.5,16.2) (37.5,18) (41.2,20)}
\Ct{(7.5,3.7) (14,5) (19,7.5) (21.5,11) (23.5,14.5) (27.5,15.3) (32.5,12.7) (40,15) (46,17.5) (51.5,20)}
\Ct{(7.5,3) (13,4) (18,5.8) (21.5,8.5) (23.5,10.5) (27.5,11.3) (32.5,9.9) (40,11.2) (48,13.5) (55,16.5) (60,20)}
\Ct{(7.5,2.3) (15,3.5) (20,5.5) (23,6.8) (27.5,7.4) (32.5,6.5) (40,7.8) (50,9.8) (57,12) (62,14.5) (66.8,16.7) (72.5,17.9)}
\Ct{(17.3,2.2) (25,3.2) (32.5,3.7) (43.2,4.8) (53.5,6) (62.4,7.6) (67.6,9) (72.5,9.7)}
\Lb{10.3}{17}{90}\Lc{15.6}{19.4}{80}\Lc{17.5}{17.6}{70}\Lc{19.4}{15.8}{60}
\Lb{33.5}{16.2}{50}\Lb{35}{13.7}{40}\Lb{34.3}{10.4}{30}\Lb{69.6}{17.4}{20}\Lb{70.1}{9.6}{10}
\end{axis}

\begin{axis}[pnl, at={({380.6*\u},{-410.7*\u})}, xtick pos=left, xticklabel pos=left, ytick pos=right, yticklabels={}]
\addplot[hm] table[meta=z] {\tabI};
\Ct{(7.5,16) (7.5,20)}
\Ct{(7.5,6.8) (9.5,11) (11,15.5) (12.3,20)}
\Ct{(7.5,6.2) (10.5,9.5) (13,13.5) (14.5,17.5) (15.3,20)}
\Ct{(7.5,5.6) (12,8.3) (15,12) (16.5,16) (17.8,20)}
\Ct{(7.5,5) (13,7) (16.5,10) (19,14.5) (20.8,20)}
\Ct{(7.5,4.3) (14,5.8) (18,8) (20.5,12) (22.5,16.5) (25.5,18.8) (27.7,19.2) (32.9,16.2) (37.5,17.5) (43.5,20)}
\Ct{(7.5,3.7) (14,5) (19,7.5) (21.5,11) (23.5,14.5) (27.7,16) (32.9,12.9) (38,14.5) (44,16.5) (51,20)}
\Ct{(7.5,3) (13,4) (18,5.8) (21.5,8.5) (23.5,10.5) (27,11.5) (32.2,9.9) (40,11.2) (48,13.7) (55,16.5) (59.8,20)}
\Ct{(7.5,2.3) (15,3.8) (20,6) (22.5,7.1) (27,7.8) (32.9,6.8) (43.2,8) (53.6,10.3) (61,13.1) (65.4,16) (67.7,17.8) (72.5,18.3)}
\Ct{(10.7,2.1) (19.6,3.6) (27,4) (32.2,4.3) (41.8,4.7) (50,5.6) (58,6.8) (65.4,8.2) (72.1,9.6)}
\Lb{10.2}{16.9}{90}\Lc{15.1}{19.4}{80}\Lc{17}{17.6}{70}\Lc{19.4}{15.8}{60}
\Lb{35.1}{17.1}{50}\Lb{35.1}{13.9}{40}\Lb{32.9}{10.3}{30}\Lb{70.2}{18.6}{20}\Lb{32.2}{4.4}{10}
\end{axis}

% ---------- colour key ----------
\begin{axis}[at={({585*\u},{-28*\u})}, anchor=north west, width=16.5pt, height=374.25pt,
  scale only axis, xmin=0, xmax=1, ymin=0, ymax=100, enlargelimits=false, axis on top,
  xtick=\empty, ytick={0,10,...,100}, ytick pos=right, yticklabel pos=right,
  tick align=outside, major tick length=4pt, tick style={black, line width=0.5pt},
  axis line style={line width=0.6pt},
  colormap name=rc, point meta min=0, point meta max=100,
  ticklabel style={font=\fontsize{10}{12}\selectfont},
  /pgf/number format/assume math mode=true]
\addplot[surf, shader=interp, mesh/cols=2, point meta=y] coordinates {(0,0) (1,0) (0,100) (1,100)};
\end{axis}

% ---------- strips ----------
\foreach \T/\cp in {60.7/5,235.7/4,410.7/3}{
  \foreach \L/\fr in {65/6,222.8/9,380.6/12}{
    \draw[fill=black!15, line width=0.6pt] ({\L*\u},{-(\T-16.2)*\u}) rectangle ({(\L+157.8)*\u},{-\T*\u});
    \draw[fill=black!15, line width=0.6pt] ({\L*\u},{-(\T-32.4)*\u}) rectangle ({(\L+157.8)*\u},{-(\T-16.2)*\u});
    \node[font=\fontsize{10}{12}\selectfont, inner sep=0pt] at ({(\L+78.9)*\u},{-(\T-8.1)*\u}) {Fractions: \{ \fr\ \}};
    \node[font=\fontsize{10}{12}\selectfont, inner sep=0pt] at ({(\L+78.9)*\u},{-(\T-24.3)*\u}) {Compartments: \{ \cp\ \}};
  }
}
% top ticks
\foreach \L in {65,222.8,380.6}{
  \foreach \v in {5,20,40,60,75}{
    \draw[line width=0.5pt] ({(\L+(\v-5)*2.2543)*\u},{-28.3*\u}) -- ({(\L+(\v-5)*2.2543)*\u},{-20.8*\u});
  }
}
\foreach \v in {5,20,40,60,75}{
  \node[font=\fontsize{10}{12}\selectfont, anchor=base, inner sep=0pt] at ({(222.8+(\v-5)*2.2543)*\u},{-15*\u}) {\v};
}
% axis titles
\node[rotate=90, font=\fontsize{11.5}{13}\selectfont] at ({15*\u},{-290.6*\u}) {Error of cellular constituent (\%)};
\node[font=\fontsize{11.5}{13}\selectfont] at ({301.7*\u},{-598*\u}) {Between-compartment separation};
\end{tikzpicture}
\end{document}
